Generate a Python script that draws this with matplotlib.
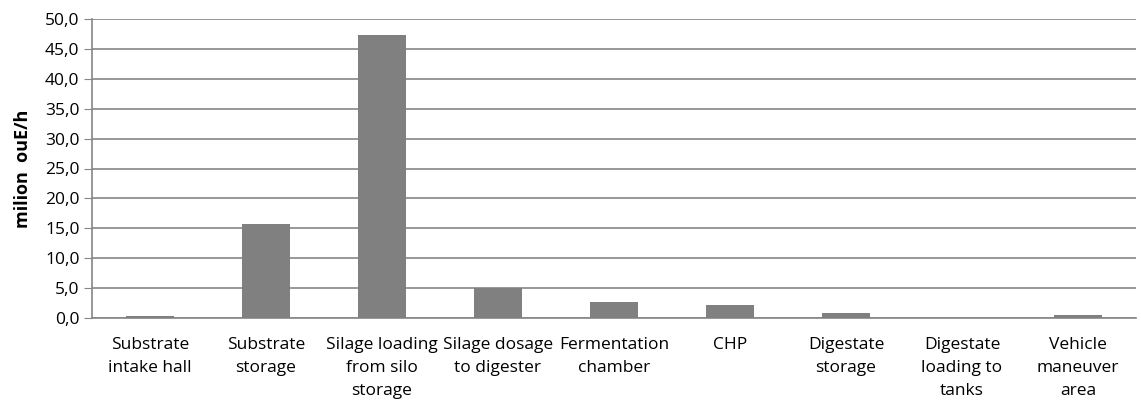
import numpy as np
import matplotlib.pyplot as plt
from matplotlib.ticker import FuncFormatter

categories = ["Substrate\nintake hall", "Substrate\nstorage", "Silage loading\nfrom silo\nstorage",
              "Silage dosage\nto digester", "Fermentation\nchamber", "CHP",
              "Digestate\nstorage", "Digestate\nloading to\ntanks", "Vehicle\nmaneuver\narea"]
values = [0.4, 15.8, 47.4, 5.0, 2.7, 2.2, 0.9, 0.0, 0.5]

plt.rcParams['font.family'] = ['Open Sans', 'DejaVu Sans']

fig = plt.figure(figsize=(11.41, 4.05), dpi=100)
ax = fig.add_axes([92/1141, 1-318/405, (1136-92)/1141, (318-19)/405])

x = np.arange(len(categories))
ax.bar(x, values, width=0.41, color='#808080', zorder=3)

ax.set_xlim(-0.5, len(categories)-0.5)
ax.set_ylim(0, 50)
ax.set_yticks(np.arange(0, 51, 5))
ax.yaxis.set_major_formatter(FuncFormatter(lambda v, p: f"{v:.1f}".replace('.', ',')))
ax.grid(axis='y', color='#868686', linewidth=1.2, zorder=0)
ax.set_xticks(x)
ax.set_xticklabels(categories, fontsize=12.5, linespacing=1.58)
ax.tick_params(axis='x', length=0, pad=14)
ax.tick_params(axis='y', length=6, color='#868686', labelsize=12.5, pad=3)

for s in ['top', 'right']:
    ax.spines[s].set_visible(False)
for s in ['left', 'bottom']:
    ax.spines[s].set_color('#868686')
    ax.spines[s].set_linewidth(1.2)

ax.set_ylabel("milion  ouE/h", fontsize=13, fontweight='bold', labelpad=9)

plt.savefig("out.png", dpi=100)
